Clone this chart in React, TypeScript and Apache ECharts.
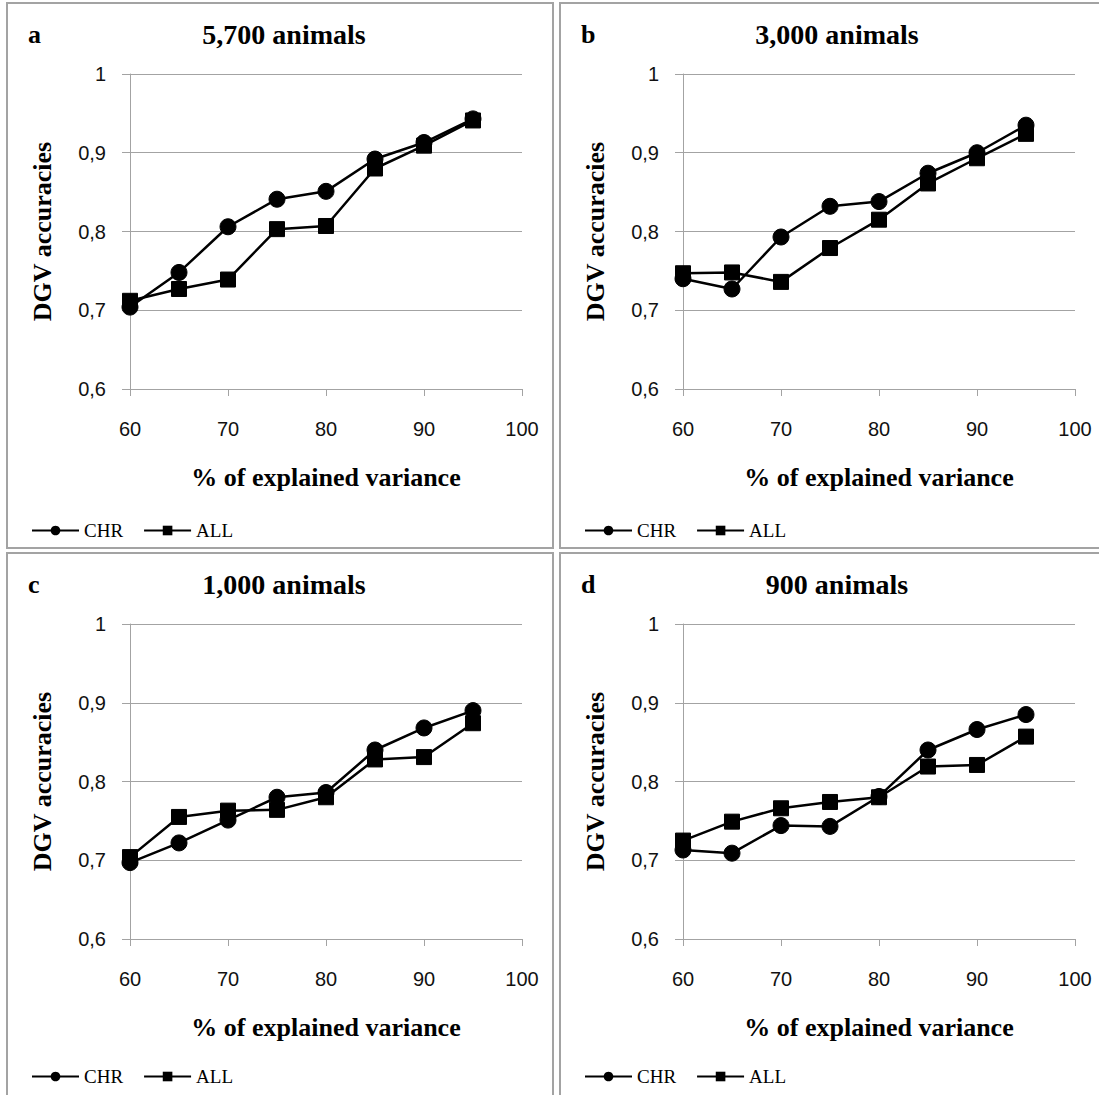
import React, { useEffect, useRef } from "react";
import * as echarts from "echarts";

const xValues = [60, 65, 70, 75, 80, 85, 90, 95];
const chrA = [0.704, 0.748, 0.806, 0.841, 0.851, 0.892, 0.913, 0.943];
const allA = [0.712, 0.727, 0.739, 0.803, 0.807, 0.88, 0.909, 0.941];
const chrB = [0.74, 0.727, 0.793, 0.832, 0.838, 0.874, 0.9, 0.935];
const allB = [0.747, 0.748, 0.736, 0.779, 0.815, 0.861, 0.893, 0.924];
const chrC = [0.697, 0.722, 0.751, 0.78, 0.786, 0.84, 0.868, 0.89];
const allC = [0.704, 0.755, 0.763, 0.764, 0.78, 0.828, 0.831, 0.874];
const chrD = [0.713, 0.709, 0.744, 0.743, 0.781, 0.84, 0.866, 0.885];
const allD = [0.725, 0.749, 0.766, 0.774, 0.78, 0.819, 0.821, 0.857];

const panelTitles = ["5,700 animals", "3,000 animals", "1,000 animals", "900 animals"];
const panelLetters = ["a", "b", "c", "d"];
const seriesNames = ["CHR", "ALL"];
const xAxisName = "% of explained variance";
const yAxisName = "DGV accuracies";

const panelData = [
  [chrA, allA],
  [chrB, allB],
  [chrC, allC],
  [chrD, allD],
];

const SERIF = "'Liberation Serif', 'Times New Roman', serif";
const SANS = "'Liberation Sans', Arial, sans-serif";
const GRAY = "#a3a3a3";

export default function App() {
  const ref = useRef<HTMLDivElement>(null);

  useEffect(() => {
    if (!ref.current) return;
    const chart = echarts.init(ref.current, undefined, { renderer: "svg" });

    const lefts = [130, 683, 130, 683];
    const tops = [74, 74, 624, 624];
    const legendTops = [74 + 442, 74 + 442, 624 + 438, 624 + 438];
    const W = 392;
    const H = 315;

    const grids: any[] = [];
    const xAxes: any[] = [];
    const yAxes: any[] = [];
    const series: any[] = [];
    const legends: any[] = [];
    const graphics: any[] = [];

    for (let i = 0; i < 4; i++) {
      const L = lefts[i];
      const T = tops[i];
      grids.push({ left: L, top: T, width: W, height: H });
      xAxes.push({
        type: "value",
        gridIndex: i,
        min: 60,
        max: 100,
        interval: 10,
        name: xAxisName,
        nameLocation: "middle",
        nameGap: 75,
        nameTextStyle: { fontFamily: SERIF, fontWeight: "bold", fontSize: 26, color: "#000" },
        axisLine: { show: true, lineStyle: { color: GRAY, width: 1 } },
        axisTick: { show: true, inside: false, length: 7, lineStyle: { color: GRAY } },
        splitLine: { show: false },
        axisLabel: { margin: 30, fontFamily: SANS, fontSize: 20, color: "#111" },
      });
      yAxes.push({
        type: "value",
        gridIndex: i,
        min: 0.6,
        max: 1,
        interval: 0.1,
        name: yAxisName,
        nameLocation: "middle",
        nameRotate: 90,
        nameGap: 75,
        nameTextStyle: { fontFamily: SERIF, fontWeight: "bold", fontSize: 26, color: "#000" },
        axisLine: { show: true, lineStyle: { color: GRAY, width: 1 } },
        axisTick: { show: true, inside: false, length: 8, lineStyle: { color: GRAY } },
        splitLine: { show: true, lineStyle: { color: GRAY, width: 1 } },
        axisLabel: {
          margin: 24,
          fontFamily: SANS,
          fontSize: 20,
          color: "#111",
          formatter: (v: number) => (Math.abs(v - 1) < 1e-9 ? "1" : v.toFixed(1).replace(".", ",")),
        },
      });
      const [chr, all] = panelData[i];
      [chr, all].forEach((vals, k) => {
        series.push({
          type: "line",
          name: seriesNames[k],
          xAxisIndex: i,
          yAxisIndex: i,
          data: xValues.map((x, j) => [x, vals[j]]),
          symbol: k === 0 ? "circle" : "rect",
          symbolSize: k === 0 ? 16 : 15,
          showAllSymbol: true,
          lineStyle: { color: "#000", width: 2.5 },
          itemStyle: { color: "#000", borderColor: "#000" },
          emphasis: { disabled: true },
          z: 2 + k,
        });
      });
      legends.push({
        left: L - 104,
        top: legendTops[i],
        itemWidth: 47,
        itemHeight: 12,
        itemGap: 20,
        selectedMode: false,
        data: seriesNames,
        textStyle: { fontFamily: SERIF, fontSize: 19, color: "#000" },
      });
      // panel border
      const bx = L - 123;
      const by = T - 71;
      graphics.push({
        type: "rect",
        shape: { x: bx, y: by, width: 546, height: 545 },
        style: { fill: "none", stroke: GRAY, lineWidth: 2 },
        silent: true,
      });
      graphics.push({
        type: "text",
        x: L - 102,
        y: T - 40,
        style: {
          text: panelLetters[i],
          font: `bold 26px ${SERIF}`,
          fill: "#000",
          textAlign: "left",
          textVerticalAlign: "middle",
        },
      });
      graphics.push({
        type: "text",
        x: L + 154,
        y: T - 40,
        style: {
          text: panelTitles[i],
          font: `bold 28px ${SERIF}`,
          fill: "#000",
          textAlign: "center",
          textVerticalAlign: "middle",
        },
      });
    }

    chart.setOption({
      animation: false,
      backgroundColor: "#fff",
      grid: grids,
      xAxis: xAxes,
      yAxis: yAxes,
      series,
      legend: legends,
      graphic: graphics,
    });

    return () => chart.dispose();
  }, []);

  return (
    <div
      ref={ref}
      style={{ position: "absolute", left: 0, top: 0, width: 1099, height: 1095 }}
    />
  );
}
